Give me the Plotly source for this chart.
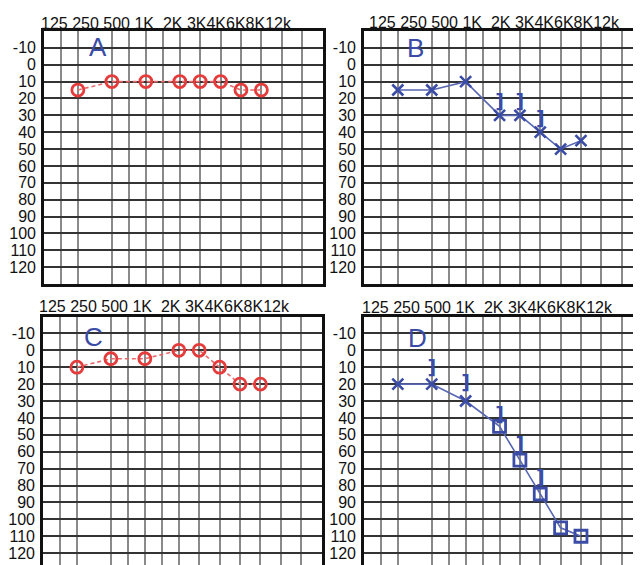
import plotly.graph_objects as go

# ---------------- data ----------------
FREQ_LABELS = ["250", "500", "1K", "2K", "3K", "4K", "6K", "8K"]
TOP_LABELS = ["125", "250", "500", "1K", "2K", "3K", "4K", "6K", "8K", "12k"]
DB_TICKS = [-10, 0, 10, 20, 30, 40, 50, 60, 70, 80, 90, 100, 110, 120]

A_air = [15, 10, 10, 10, 10, 10, 15, 15]
C_air = [10, 5, 5, 0, 0, 10, 20, 20]

B_air = [15, 15, 10, 30, 30, 40, 50, 45]
B_bone_freqs = ["2K", "3K", "4K"]
B_bone = [23, 23, 33]

D_x_freqs = ["250", "500", "1K"]
D_x_vals = [20, 20, 30]
D_sq_freqs = ["2K", "3K", "4K", "6K", "8K"]
D_sq_vals = [45, 65, 85, 105, 110]
D_bone_freqs = ["500", "1K", "2K", "3K", "4K"]
D_bone = [11, 20, 39, 57, 76]

PANEL_LETTERS = ["A", "B", "C", "D"]

# ---------------- audiometer x scale ----------------
# slot index of each frequency on the audiogram form
SLOT = {"125": 0, "250": 2, "500": 4, "1K": 6, "2K": 8, "3K": 9, "4K": 10, "6K": 11, "8K": 12}
GRID_SLOTS = [0, 1, 2, 4, 5, 6, 7, 8, 9, 10, 11, 12, 13, 14, 15]


def xpos(slot):
    # narrower cells below 2K, wider cells above
    return min(slot, 8) + 1.2 * max(slot - 8, 0)


def fx(freqs):
    return [xpos(SLOT[f]) for f in freqs]


W, H = 641, 565
OFF = 8  # page body margin: screen px -> figure px
RED = "#e63b3b"
RED_LINE = "#e86a6a"
BLUE = "#3a4ca6"
BLUE_LINE = "#5867b3"
FONT = "Liberation Sans, Arial, sans-serif"
BONE_FONT = dict(family="DejaVu Sans", size=19, color=BLUE, weight="bold")


def fxp(sx):
    return (sx - OFF) / W


def fyp(sy):
    return 1 - (sy - OFF) / H


fig = go.Figure()

# panel geometry in screen pixels: (left, right, top, bottom)
VIS_R = W  # right edge of the window
VIS_B = H  # bottom edge of the window
panels = {
    1: dict(px=(42, 321.5), py=(31, 284), yr=[130, -20], mirror_y=True, bottom=True),
    2: dict(px=(363, VIS_R), py=(31, 284), yr=[130, -20], mirror_y=False, bottom=True),
    3: dict(px=(41, 321), py=(316.5, VIS_B), yr=[127, -20], mirror_y=True, bottom=False),
    4: dict(px=(363, VIS_R), py=(316.5, VIS_B), yr=[127, -20], mirror_y=False, bottom=False),
}

full_w = xpos(15)
for k, p in panels.items():
    xs = "" if k == 1 else str(k)
    l, r = p["px"]
    t, b = p["py"]
    xr = [0, full_w * (r - l) / (279.5 if k in (1, 3) else 279)]
    fig.update_layout(**{
        f"xaxis{xs}": dict(
            domain=[fxp(l), fxp(r)], range=xr, anchor=f"y{xs}",
            side="top" if not p["bottom"] else "bottom",
            showline=True, linecolor="#111", linewidth=2.5, mirror=p["bottom"],
            showticklabels=False, ticks="", zeroline=False,
            tickvals=[xpos(s) for s in GRID_SLOTS], showgrid=True,
            gridcolor="#8a8a8a", gridwidth=2,
            fixedrange=True,
        ),
        f"yaxis{xs}": dict(
            domain=[fyp(b), fyp(t)], range=p["yr"], anchor=f"x{xs}",
            showline=True, linecolor="#111", linewidth=2.5, mirror=p["mirror_y"],
            tickvals=DB_TICKS, ticktext=[str(v) for v in DB_TICKS],
            tickfont=dict(family=FONT, size=16, color="#111"),
            ticks="", ticklabelstandoff=2,
            showgrid=True, gridcolor="#333333", gridwidth=1.6, zeroline=False,
            fixedrange=True,
        ),
    })

# ---------------- traces ----------------
# A: red circles, dashed
fig.add_trace(go.Scatter(
    x=fx(FREQ_LABELS), y=A_air, mode="lines+markers", xaxis="x", yaxis="y",
    line=dict(color=RED_LINE, width=1.6, dash="4px,3px"),
    marker=dict(symbol="circle-open", size=12, color=RED, line=dict(width=2.8, color=RED)),
    showlegend=False))

# C: red circles, dashed
fig.add_trace(go.Scatter(
    x=fx(FREQ_LABELS), y=C_air, mode="lines+markers", xaxis="x3", yaxis="y3",
    line=dict(color=RED_LINE, width=1.6, dash="4px,3px"),
    marker=dict(symbol="circle-open", size=12, color=RED, line=dict(width=2.8, color=RED)),
    showlegend=False))

# B: blue X, solid
fig.add_trace(go.Scatter(
    x=fx(FREQ_LABELS), y=B_air, mode="lines+markers", xaxis="x2", yaxis="y2",
    line=dict(color=BLUE_LINE, width=1.6),
    marker=dict(symbol="x-thin-open", size=11, color=BLUE, line=dict(width=2.6, color=BLUE)),
    showlegend=False))
fig.add_trace(go.Scatter(
    x=fx(B_bone_freqs), y=B_bone, mode="text", text=["]"] * len(B_bone),
    xaxis="x2", yaxis="y2", textfont=BONE_FONT, showlegend=False))

# D: line through all air points, X then squares
fig.add_trace(go.Scatter(
    x=fx(D_x_freqs + D_sq_freqs), y=D_x_vals + D_sq_vals, mode="lines",
    xaxis="x4", yaxis="y4", line=dict(color=BLUE_LINE, width=1.6), showlegend=False))
fig.add_trace(go.Scatter(
    x=fx(D_x_freqs), y=D_x_vals, mode="markers", xaxis="x4", yaxis="y4",
    marker=dict(symbol="x-thin-open", size=11, color=BLUE, line=dict(width=2.6, color=BLUE)),
    showlegend=False))
fig.add_trace(go.Scatter(
    x=fx(D_sq_freqs), y=D_sq_vals, mode="markers", xaxis="x4", yaxis="y4",
    marker=dict(symbol="square-open", size=12, color=BLUE, line=dict(width=2.8, color=BLUE)),
    showlegend=False))
fig.add_trace(go.Scatter(
    x=fx(D_bone_freqs), y=D_bone, mode="text", text=["]"] * len(D_bone),
    xaxis="x4", yaxis="y4", textfont=BONE_FONT, showlegend=False))

# ---------------- annotations ----------------
top_text = " ".join(TOP_LABELS[:4]) + "  " + TOP_LABELS[4] + " " + "".join(TOP_LABELS[5:])
label_pos = [(37, 23), (366.5, 22.5), (35, 306), (359, 307.5)]
letter_pos = [(96, 47), (415, 48.5), (92, 337), (417, 338)]
annotations = []
for (lx, ly), (cx, cy), letter in zip(label_pos, letter_pos, PANEL_LETTERS):
    annotations.append(dict(
        x=fxp(lx), y=fyp(ly), xref="paper", yref="paper", xanchor="left", yanchor="middle",
        text=top_text, showarrow=False, font=dict(family=FONT, size=16, color="#111")))
    annotations.append(dict(
        x=fxp(cx), y=fyp(cy), xref="paper", yref="paper", xanchor="center", yanchor="middle",
        text=letter, showarrow=False, font=dict(family=FONT, size=26, color=BLUE)))

fig.update_layout(
    width=W, height=H, margin=dict(l=0, r=0, t=0, b=0),
    paper_bgcolor="white", plot_bgcolor="white",
    annotations=annotations, showlegend=False,
)

fig.write_html("out.html")
